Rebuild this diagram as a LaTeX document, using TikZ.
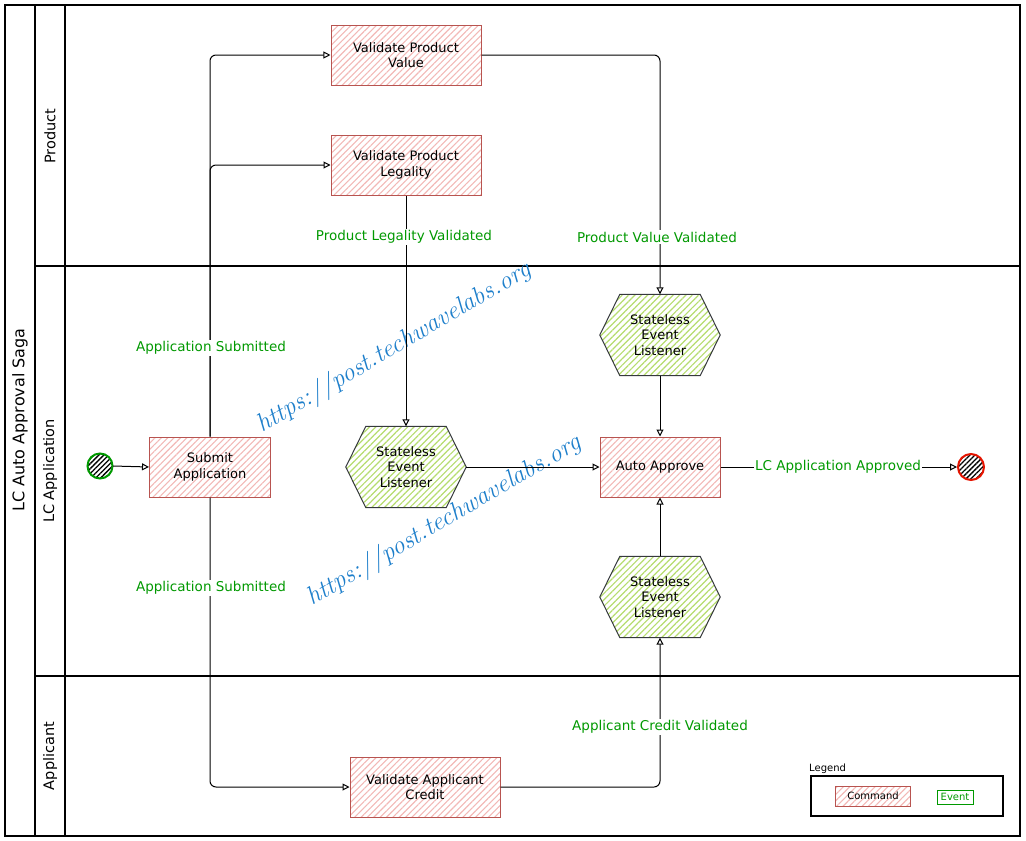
\documentclass[tikz,border=0pt]{standalone}
\usepackage{fontspec}
\setsansfont{DejaVu Sans}
\usetikzlibrary{patterns.meta,arrows.meta,backgrounds}
\definecolor{cmdstroke}{HTML}{B85450}
\definecolor{cmdhatch}{HTML}{F2B8B6}
\definecolor{hexstroke}{HTML}{36393D}
\definecolor{hexhatch}{HTML}{B5DC6E}
\definecolor{evgreen}{HTML}{009900}
\definecolor{wmblue}{HTML}{1E7FCB}
\definecolor{endred}{HTML}{E51400}
\begin{document}
\begin{tikzpicture}[x=1pt,y=-1pt,
  font=\sffamily\fontsize{13}{15.5}\selectfont,
  cmd/.style={draw=cmdstroke, line width=1pt,
    pattern={Lines[angle=45,distance=4.5pt,line width=1.1pt]}, pattern color=cmdhatch,
    minimum width=150, minimum height=60, align=center, inner sep=2pt},
  hexnode/.style={minimum width=120, minimum height=81, align=center, inner sep=0pt},
  hexdraw/.style={draw=hexstroke, line width=1pt,
    pattern={Lines[angle=45,distance=4.5pt,line width=1.2pt]}, pattern color=hexhatch},
  flow/.style={draw=black, line width=1pt, -{Triangle[open,length=7pt,width=7pt]}, rounded corners=6pt},
  evlabel/.style={text=evgreen, fill=white, inner sep=1.5pt, font=\sffamily\fontsize{13.5}{16}\selectfont},
  lane/.style={line width=1.2pt},
  lanetitle/.style={rotate=90, font=\sffamily\fontsize{14.5}{17}\selectfont},
  wm/.style={rotate=30.5, text=wmblue, font=\rmfamily\itshape\fontsize{25.5}{28}\selectfont}
]
\useasboundingbox (0,0) rectangle (1026,841);
% pool and lanes
\draw[lane] (5,5) rectangle (1020,836);
\draw[lane] (35,5) -- (35,836);
\draw[lane] (65,5) -- (65,836);
\draw[lane] (35,266) -- (1020,266);
\draw[lane] (35,676) -- (1020,676);
\node[rotate=90, font=\sffamily\fontsize{16}{19}\selectfont] (pooltitle) at (20,420) {LC Auto Approval Saga};
\node[lanetitle] (lanep) at (50,136) {Product};
\node[lanetitle] (lanelc) at (50,471) {LC Application};
\node[lanetitle] (lanea) at (50,756) {Applicant};

% watermarks
\node[wm] (wm1) at (394,348) {https://post.techwavelabs.org};
\node[wm] (wm2) at (444,521) {https://post.techwavelabs.org};

% command nodes
\node[cmd] (vpv) at (406,55) {Validate Product\\Value};
\node[cmd] (vpl) at (406,165) {Validate Product\\Legality};
\node[cmd, minimum width=121] (submit) at (210,467) {Submit\\Application};
\node[cmd, minimum width=120] (aa) at (660,467) {Auto Approve};
\node[cmd] (vac) at (425,787) {Validate Applicant\\Credit};

% hexagon listeners
\node[hexnode] (L1) at (406,467) {Stateless\\Event\\Listener};
\node[hexnode] (L2) at (660,335) {Stateless\\Event\\Listener};
\node[hexnode] (L3) at (660,597) {Stateless\\Event\\Listener};
\begin{pgfonlayer}{background}
\foreach \h in {L1,L2,L3}{
  \draw[hexdraw] (\h.west) -- ([xshift=20pt]\h.north west) -- ([xshift=-20pt]\h.north east)
    -- (\h.east) -- ([xshift=-20pt]\h.south east) -- ([xshift=20pt]\h.south west) -- cycle;
}
\end{pgfonlayer}

% start / end events
\node[circle, draw=evgreen, line width=2pt, minimum size=25, inner sep=0pt,
  pattern={Lines[angle=45,distance=3.5pt,line width=1.3pt]}, pattern color=black] (startc) at (100,466) {};
\node[circle, draw=endred, line width=2pt, minimum size=26, inner sep=0pt,
  pattern={Lines[angle=45,distance=3.5pt,line width=1.3pt]}, pattern color=black] (endc) at (971,467) {};

% connectors
\draw[flow] (startc.east) -- (submit.west);
\draw[flow] (submit.north) |- (vpv.west);
\draw[flow] (submit.north) |- (vpl.west);
\draw[flow] (submit.south) |- (vac.west);
\draw[flow] (vpl.south) -- (L1.north);
\draw[flow] (vpv.east) -| (L2.north);
\draw[flow] (L2.south) -- (aa.north);
\draw[flow] (L1.east) -- (aa.west);
\draw[flow] (vac.east) -| (L3.south);
\draw[flow] (L3.north) -- (aa.south);
\draw[flow] (aa.east) -- (endc.west);

% edge labels
\node[evlabel] (lb1) at (211,348) {Application Submitted};
\node[evlabel] (lb2) at (211,588) {Application Submitted};
\node[evlabel] (lb3) at (404,237) {Product Legality Validated};
\node[evlabel] (lb4) at (657,237) {Product Value Validated};
\node[evlabel] (lb5) at (660,727) {Applicant Credit Validated};
\node[evlabel] (lb6) at (838,467) {LC Application Approved};

% legend
\node[draw, line width=1.1pt, minimum width=192, minimum height=40, inner sep=0pt] (legend) at (907,796) {};
\node[anchor=south west, inner sep=1pt, font=\sffamily\fontsize{10}{12}\selectfont] (legendlbl) at (808,775) {Legend};
\node[cmd, minimum width=75, minimum height=20, inner sep=1pt, font=\sffamily\fontsize{10}{12}\selectfont] (lgcmd) at (873,796) {Command};
\node[draw=evgreen, text=evgreen, line width=0.8pt, minimum width=36, minimum height=14, inner sep=1pt, font=\sffamily\fontsize{10}{12}\selectfont] (lgev) at (955,797) {Event};
\end{tikzpicture}
\end{document}
